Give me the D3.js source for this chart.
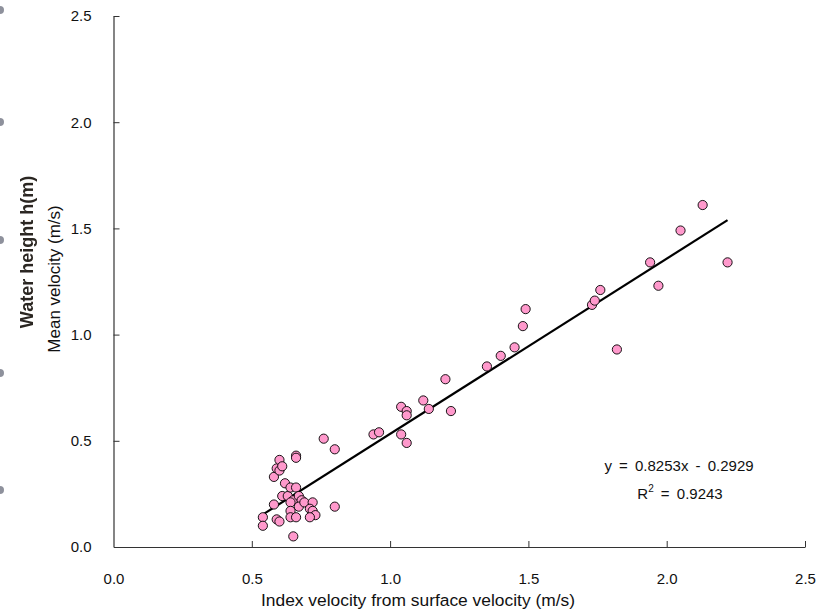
<!DOCTYPE html>
<html>
<head>
<meta charset="utf-8">
<script src="https://cdn.jsdelivr.net/npm/d3@7"></script>
<style>
  body{margin:0;background:#fff;}
  text{font-family:Arial,"Liberation Sans",sans-serif;fill:#111;}
</style>
</head>
<body>
<div class="chart"></div>
<script>
// index velocity (x) vs mean velocity (y), m/s
const indexVel = [
  0.54,0.54,0.58,0.59,0.60,0.58,0.59,0.60,0.60,0.61,
  0.62,0.61,0.63,0.64,0.66,0.65,0.64,0.67,0.68,0.67,
  0.69,0.72,0.71,0.72,0.73,0.71,0.64,0.64,0.66,0.65,
  0.66,0.66,0.76,0.80,0.80,0.94,0.96,1.04,1.06,1.04,
  1.06,1.06,1.12,1.14,1.20,1.22,1.35,1.40,1.45,1.48,
  1.49,1.73,1.74,1.76,1.82,1.94,1.97,2.05,2.13,2.22
];
const meanVel = [
  0.14,0.10,0.20,0.13,0.12,0.33,0.37,0.36,0.41,0.38,
  0.30,0.24,0.24,0.28,0.28,0.22,0.21,0.24,0.22,0.19,
  0.21,0.21,0.18,0.17,0.15,0.14,0.17,0.14,0.14,0.05,
  0.43,0.42,0.51,0.46,0.19,0.53,0.54,0.53,0.49,0.66,
  0.64,0.62,0.69,0.65,0.79,0.64,0.85,0.90,0.94,1.04,
  1.12,1.14,1.16,1.21,0.93,1.34,1.23,1.49,1.61,1.34
];
// trendline end points (y = 0.8253x - 0.2929)
const trendX = [0.535, 2.22];
const trendY = [0.149, 1.539];
const xTicks = [0, 0.5, 1.0, 1.5, 2.0, 2.5];
const yTicks = [0, 0.5, 1.0, 1.5, 2.0, 2.5];
const eqText = "y = 0.8253x - 0.2929";
const r2Value = "0.9243";
// faint marks at the left edge of the scan
const ghostDots = [10, 122, 240, 373, 490];

const svg_width = 821;
const svg_height = 613;

const svg = d3.select('.chart').append('svg')
    .attr('width', svg_width).attr('height', svg_height);

const xScale = d3.scaleLinear().domain([0, 2.5]).range([113.5, 805]);
const yScale = d3.scaleLinear().domain([0, 2.5]).range([547, 16]);

// ghost text + dots
const blur = svg.append('defs').append('filter').attr('id','blur');
blur.append('feGaussianBlur').attr('stdDeviation', 0.45);

svg.append('g').attr('filter','url(#blur)')
    .selectAll('circle').data(ghostDots).join('circle')
    .attr('cx', 0).attr('cy', d => d).attr('r', 4)
    .style('fill', '#8e919c');

svg.append('text')
    .attr('transform', 'translate(33,252) rotate(-90)')
    .attr('text-anchor', 'middle')
    .attr('filter', 'url(#blur)')
    .style('font-size', '18px').style('font-weight', 'bold').style('fill', '#2a2520')
    .text('Water height h(m)');

// axes, ticks pointing inward
const xAxis = d3.axisBottom(xScale).tickValues(xTicks).tickSizeInner(-6).tickSizeOuter(0)
    .tickFormat(d3.format('.1f')).tickPadding(26);
const yAxis = d3.axisLeft(yScale).tickValues(yTicks).tickSizeInner(-6).tickSizeOuter(0)
    .tickFormat(d3.format('.1f')).tickPadding(22);

const xAxisDraw = svg.append('g').attr('transform', `translate(0,${yScale(0)})`).call(xAxis);
const yAxisDraw = svg.append('g').attr('transform', `translate(${xScale(0)},0)`).call(yAxis);

[xAxisDraw, yAxisDraw].forEach(g => {
    g.select('.domain').style('stroke', '#333').style('stroke-width', 1.2);
    g.selectAll('.tick line').style('stroke', '#333');
    g.selectAll('.tick text').style('font-size', '15px')
        .style('font-family', 'Arial,"Liberation Sans",sans-serif').style('fill', '#111');
});
yAxisDraw.selectAll('.tick').filter(d => d === 0).select('line').remove();
xAxisDraw.selectAll('.tick').filter(d => d === 0).select('line').remove();

// axis titles
svg.append('text')
    .attr('x', 418).attr('y', 606)
    .attr('text-anchor', 'middle')
    .style('font-size', '17.4px')
    .text('Index velocity from surface velocity (m/s)');

svg.append('text')
    .attr('transform', 'translate(60,279) rotate(-90)')
    .attr('text-anchor', 'middle')
    .style('font-size', '17px')
    .text('Mean velocity (m/s)');

// trendline
svg.append('line')
    .attr('x1', xScale(trendX[0])).attr('y1', yScale(trendY[0]))
    .attr('x2', xScale(trendX[1])).attr('y2', yScale(trendY[1]))
    .style('stroke', '#000').style('stroke-width', 2.2);

// points
svg.append('g').attr('class', 'points')
    .selectAll('circle').data(indexVel).join('circle')
    .attr('cx', d => xScale(d))
    .attr('cy', (d, i) => yScale(meanVel[i]))
    .attr('r', 4.6)
    .style('fill', '#ff99cc')
    .style('stroke', '#000').style('stroke-width', 0.9);

// equation
svg.append('text')
    .attr('x', 679).attr('y', 471)
    .attr('text-anchor', 'middle')
    .style('font-size', '15px').style('word-spacing', '3px')
    .text(eqText);

const r2 = svg.append('text')
    .attr('x', 680).attr('y', 499)
    .attr('text-anchor', 'middle')
    .style('font-size', '15px').style('word-spacing', '3px');
r2.append('tspan').text('R');
r2.append('tspan').attr('dy', -7).style('font-size', '10px').text('2');
r2.append('tspan').attr('dy', 7).text(' = ' + r2Value);
</script>
</body>
</html>
